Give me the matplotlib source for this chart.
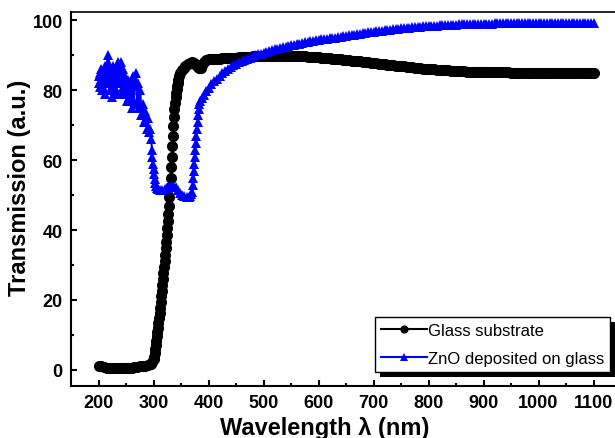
import matplotlib
matplotlib.use('Agg')
import matplotlib.pyplot as plt
from matplotlib.patches import Rectangle

plt.rcParams['font.family'] = ['Liberation Sans', 'DejaVu Sans']

# Glass substrate: wavelength (nm) and transmission (a.u.)
glass_wl = ([200, 205, 210, 215, 220, 225, 230, 235, 240, 245, 250, 255, 260, 265, 270, 275, 280, 285, 290, 295,
             298, 300, 301, 302, 303, 304, 305, 306, 307, 308, 309, 310, 311, 312, 313, 314, 315, 316, 317, 318,
             319, 320, 321, 322, 323, 324, 325, 326, 327, 328, 329, 330, 331, 332, 333, 334, 335, 336, 337, 338,
             339, 340, 341, 342, 343, 344, 345, 347, 349, 352, 355, 358, 362, 366, 370, 374, 377, 380, 383, 386,
             389, 392, 396]
            + list(range(400, 1101, 5)))
glass_T = [1.2, 1.0, 0.8, 0.6, 0.5, 0.5, 0.5, 0.5, 0.5, 0.6, 0.6, 0.7, 0.7, 0.8, 0.9, 1.0, 1.1, 1.2, 1.4, 1.8,
           2.4, 3.0, 3.8, 4.8, 6.0, 7.2, 8.4, 9.6, 10.8, 12.0, 13.3, 14.8, 16.3, 17.8, 19.4, 21.0, 22.7, 24.4, 26.1, 27.8,
           29.5, 31.2, 33.0, 34.8, 36.6, 38.5, 40.5, 42.5, 44.7, 47.0, 49.5, 52.2, 55.0, 58.0, 61.0, 64.0, 67.0, 69.8, 72.3, 74.5,
           76.4, 78.0, 79.3, 80.4, 81.3, 82.1, 82.8, 83.9, 84.8, 85.7, 86.4, 87.0, 87.5, 87.8, 87.9, 87.7, 87.2, 86.6, 86.2, 86.4,
           87.3, 88.1, 88.6,
           # 400 - 1100 nm, every 5 nm
           88.8, 88.85, 88.9, 88.95, 89.0, 89.05, 89.1, 89.15, 89.2, 89.25,
           89.3, 89.35, 89.4, 89.45, 89.5, 89.55, 89.6, 89.65, 89.7, 89.72,
           89.75, 89.78, 89.8, 89.82, 89.85, 89.85, 89.85, 89.85, 89.85, 89.82,
           89.8, 89.78, 89.75, 89.7, 89.65, 89.6, 89.55, 89.5, 89.45, 89.4,
           89.35, 89.28, 89.2, 89.15, 89.1, 89.02, 88.95, 88.88, 88.8, 88.7,
           88.6, 88.52, 88.45, 88.38, 88.3, 88.2, 88.1, 88.02, 87.95, 87.85,
           87.75, 87.65, 87.55, 87.48, 87.4, 87.3, 87.2, 87.1, 87.0, 86.92,
           86.85, 86.75, 86.65, 86.58, 86.5, 86.4, 86.3, 86.22, 86.15, 86.08,
           86.0, 85.95, 85.9, 85.82, 85.75, 85.7, 85.65, 85.6, 85.55, 85.5,
           85.45, 85.42, 85.4, 85.35, 85.3, 85.28, 85.25, 85.22, 85.2, 85.18,
           85.15, 85.12, 85.1, 85.1, 85.08, 85.06, 85.05, 85.05, 85.04, 85.03,
           85.02, 85.0, 85.0, 85.0, 85.0, 85.0, 85.0, 85.0, 85.0, 85.0,
           85.0, 85.0, 85.0, 85.0, 85.0, 85.0, 85.0, 85.0, 85.0, 85.0,
           85.0, 85.0, 85.0, 85.0, 85.0, 85.0, 85.0, 85.0, 85.0, 85.0,
           85.0]

# ZnO deposited on glass
zno_wl = ([200, 201, 202, 203, 204, 205, 206, 207, 208, 209, 210, 211, 212, 213, 214, 215, 216, 217, 218, 219,
           220, 221, 222, 223, 224, 225, 226, 227, 228, 229, 230, 231, 232, 233, 234, 235, 236, 237, 238, 239,
           240, 241, 242, 243, 244, 245, 246, 247, 248, 249, 250, 252, 254, 256, 258, 260, 262, 264, 266, 268,
           270, 272, 274, 276, 278,
           280, 282, 284, 286, 288, 290, 292, 294, 296, 297, 298, 299, 300, 301, 302, 303, 304, 306, 308, 312,
           316, 320, 324, 328, 332, 336, 340, 344, 348, 352, 356, 360, 364, 367, 369, 370, 371, 372, 373, 374,
           375, 376, 377, 378, 379, 380, 381, 382, 383, 385, 388, 391, 395]
          + list(range(400, 1101, 5)))
zno_T = [84, 82, 81, 85, 86, 83, 80, 84, 85, 81, 83, 87, 79, 84, 86, 82, 82, 88, 90, 85,
         80, 84, 86, 82, 78, 83, 84, 87, 81, 85, 86, 80, 79, 83, 84, 88, 87, 82, 82, 85,
         88, 83, 79, 85, 86, 81, 81, 84, 84, 79, 80, 77, 83, 78, 82, 75, 84, 77, 82, 85,
         76, 82, 75, 80, 73,
         76, 71, 74, 72, 69, 72, 68, 69, 66, 63, 61, 59, 57.5, 56, 54.5, 53.3, 52.5, 52.0, 51.7, 51.5,
         51.5, 51.7, 52.0, 52.4, 52.7, 52.6, 52.2, 51.5, 50.7, 50.0, 49.6, 49.4, 49.4, 49.6, 50.2, 51.0, 52.8, 54.8, 56.8, 58.8,
         60.8, 62.8, 64.8, 66.8, 68.8, 70.8, 72.8, 74.6, 76.0, 76.8, 77.8, 78.7, 79.7,
         # 400 - 1100 nm, every 5 nm
         80.7, 81.6, 82.5, 83.3, 84.1, 84.8, 85.5, 86.1, 86.6, 87.1,
         87.5, 87.9, 88.3, 88.7, 89.0, 89.3, 89.6, 89.9, 90.2, 90.45,
         90.7, 90.95, 91.2, 91.4, 91.6, 91.8, 92.0, 92.2, 92.4, 92.6,
         92.8, 92.95, 93.1, 93.3, 93.5, 93.65, 93.8, 93.95, 94.1, 94.25,
         94.4, 94.5, 94.6, 94.7, 94.8, 94.9, 95.0, 95.1, 95.2, 95.35,
         95.5, 95.6, 95.7, 95.85, 96.0, 96.1, 96.2, 96.35, 96.5, 96.6,
         96.7, 96.8, 96.9, 97.0, 97.1, 97.2, 97.3, 97.4, 97.5, 97.55,
         97.6, 97.7, 97.8, 97.85, 97.9, 98.0, 98.1, 98.15, 98.2, 98.25,
         98.3, 98.35, 98.4, 98.45, 98.5, 98.55, 98.6, 98.6, 98.6, 98.65,
         98.7, 98.75, 98.8, 98.8, 98.8, 98.85, 98.9, 98.9, 98.9, 98.95,
         99.0, 99.0, 99.0, 99.02, 99.03, 99.04, 99.05, 99.05, 99.06, 99.07,
         99.08, 99.1, 99.1, 99.1, 99.1, 99.1, 99.1, 99.1, 99.12, 99.12,
         99.13, 99.13, 99.14, 99.14, 99.15, 99.15, 99.15, 99.16, 99.16, 99.17,
         99.17, 99.18, 99.18, 99.18, 99.19, 99.19, 99.2, 99.2, 99.2, 99.2,
         99.2]

x_ticks = [200, 300, 400, 500, 600, 700, 800, 900, 1000, 1100]
y_ticks = [0, 20, 40, 60, 80, 100]

fig = plt.figure(figsize=(6.15, 4.39), dpi=100)
ax = fig.add_axes([71 / 615, 1 - 386.7 / 439, 550 / 615, 374 / 439])

ax.plot(glass_wl, glass_T, color='black', marker='o', ms=7, lw=1.5, label='Glass substrate')
ax.plot(zno_wl, zno_T, color='#0000ff', marker='^', ms=7.5, lw=1.5, mew=0,
        label='ZnO deposited on glass')

ax.set_xlim(150, 1150)
ax.set_ylim(-4.5, 102.4)
ax.set_xticks(x_ticks)
ax.set_yticks(y_ticks)
ax.set_xticks(range(250, 1150, 100), minor=True)
ax.set_yticks(range(10, 100, 20), minor=True)
ax.tick_params(which='both', direction='in', width=1.5, top=False, right=False)
ax.tick_params(which='major', length=4, pad=6, labelsize=13)
ax.tick_params(which='minor', length=2.5)
for lab in ax.get_xticklabels() + ax.get_yticklabels():
    lab.set_fontweight('bold')

for side in ['left', 'bottom']:
    ax.spines[side].set_linewidth(1.5)
ax.spines['top'].set_linewidth(1.2)

ax.set_xlabel('Wavelength λ (nm)', fontsize=17, fontweight='bold')
ax.set_ylabel('Transmission (a.u.)', fontsize=17, fontweight='bold')
ax.xaxis.set_label_coords(0.462, -0.082)
ax.yaxis.set_label_coords(-0.073, 0.531)

leg = ax.legend(loc='upper left', bbox_to_anchor=(375 / 615, 1 - 318 / 439),
                bbox_transform=fig.transFigure, fontsize=12, frameon=True, fancybox=False,
                framealpha=1, handlelength=2.75, handletextpad=0.05, borderpad=0.35,
                labelspacing=0.8, borderaxespad=0, markerscale=0.7)
leg.get_frame().set_edgecolor('black')
leg.get_frame().set_linewidth(1.0)

# solid black drop shadow behind the legend box
fig.canvas.draw()
bb = leg.get_window_extent()
ax.add_patch(Rectangle((bb.x0 + 5, bb.y0 - 5), bb.width, bb.height, transform=None,
                       facecolor='black', edgecolor='none', clip_on=False, zorder=4.9))

fig.savefig('out.png', dpi=100)
